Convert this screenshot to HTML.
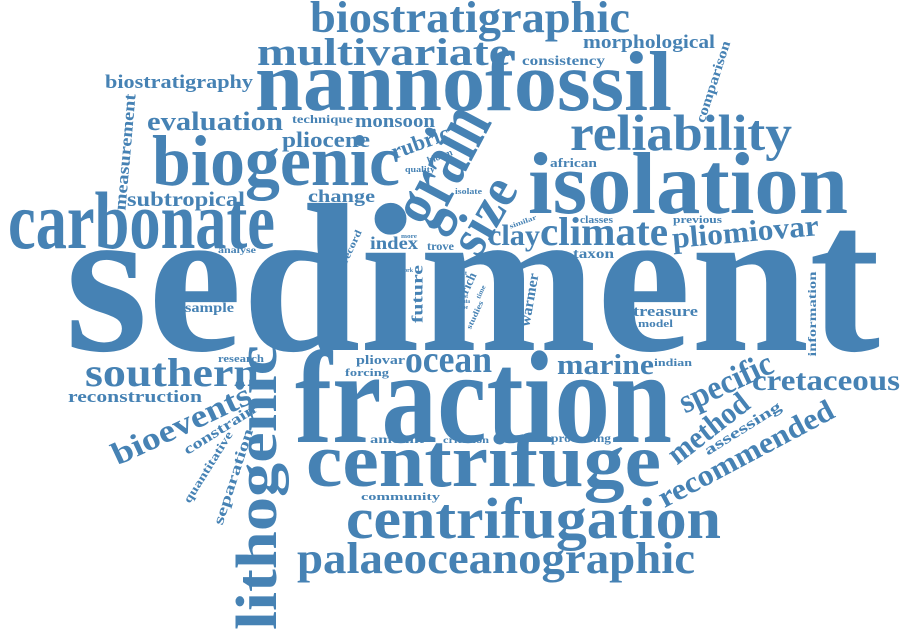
<!DOCTYPE html>
<html><head><meta charset="utf-8">
<style>
html,body{margin:0;padding:0;background:#fff;}
svg{display:block;}
text{font-family:"Liberation Serif",serif;font-weight:bold;fill:#4682b4;}
</style></head>
<body>
<svg width="900" height="633" viewBox="0 0 900 633">
<text x="65" y="350" font-size="212" textLength="815" lengthAdjust="spacingAndGlyphs">sediment</text>
<text x="295" y="442" font-size="132" textLength="377" lengthAdjust="spacingAndGlyphs">fraction</text>
<text x="255" y="110" font-size="85" textLength="417" lengthAdjust="spacingAndGlyphs">nannofossil</text>
<text x="528" y="213" font-size="88" textLength="320" lengthAdjust="spacingAndGlyphs">isolation</text>
<text x="8" y="248" font-size="82" textLength="267" lengthAdjust="spacingAndGlyphs">carbonate</text>
<text x="152" y="185" font-size="72" textLength="248" lengthAdjust="spacingAndGlyphs">biogenic</text>
<text x="306" y="486" font-size="76" textLength="355" lengthAdjust="spacingAndGlyphs">centrifuge</text>
<text x="346" y="538" font-size="58" textLength="375" lengthAdjust="spacingAndGlyphs">centrifugation</text>
<text x="297" y="573" font-size="44" textLength="398" lengthAdjust="spacingAndGlyphs">palaeoceanographic</text>
<text x="570" y="150" font-size="51" textLength="222" lengthAdjust="spacingAndGlyphs">reliability</text>
<text x="310" y="32" font-size="44" textLength="320" lengthAdjust="spacingAndGlyphs">biostratigraphic</text>
<text x="257" y="65" font-size="39" textLength="253" lengthAdjust="spacingAndGlyphs">multivariate</text>
<text x="540" y="245" font-size="40" textLength="128" lengthAdjust="spacingAndGlyphs">climate</text>
<text x="488" y="245" font-size="30" textLength="52" lengthAdjust="spacingAndGlyphs">clay</text>
<text x="673" y="248" font-size="30" textLength="147" lengthAdjust="spacingAndGlyphs" transform="rotate(-5 673 248)">pliomiovar</text>
<text x="85" y="386" font-size="40" textLength="174" lengthAdjust="spacingAndGlyphs">southern</text>
<text x="752" y="390" font-size="30" textLength="148" lengthAdjust="spacingAndGlyphs">cretaceous</text>
<text x="405" y="372" font-size="38" textLength="87" lengthAdjust="spacingAndGlyphs">ocean</text>
<text x="557" y="374" font-size="28" textLength="97" lengthAdjust="spacingAndGlyphs">marine</text>
<text x="147" y="130" font-size="26" textLength="136" lengthAdjust="spacingAndGlyphs">evaluation</text>
<text x="282" y="147" font-size="22" textLength="88" lengthAdjust="spacingAndGlyphs">pliocene</text>
<text x="355" y="127" font-size="19" textLength="80" lengthAdjust="spacingAndGlyphs">monsoon</text>
<text x="292" y="123" font-size="12" textLength="61" lengthAdjust="spacingAndGlyphs">technique</text>
<text x="127" y="206" font-size="21" textLength="118" lengthAdjust="spacingAndGlyphs">subtropical</text>
<text x="308" y="202" font-size="18" textLength="67" lengthAdjust="spacingAndGlyphs">change</text>
<text x="583" y="48" font-size="19" textLength="132" lengthAdjust="spacingAndGlyphs">morphological</text>
<text x="522" y="65" font-size="14" textLength="83" lengthAdjust="spacingAndGlyphs">consistency</text>
<text x="105" y="88" font-size="19" textLength="148" lengthAdjust="spacingAndGlyphs">biostratigraphy</text>
<text x="550" y="167" font-size="13" textLength="47" lengthAdjust="spacingAndGlyphs">african</text>
<text x="370" y="249" font-size="18" textLength="48" lengthAdjust="spacingAndGlyphs">index</text>
<text x="427" y="250" font-size="12" textLength="27" lengthAdjust="spacingAndGlyphs">trove</text>
<text x="573" y="258" font-size="14" textLength="41" lengthAdjust="spacingAndGlyphs">taxon</text>
<text x="673" y="223" font-size="11" textLength="49" lengthAdjust="spacingAndGlyphs">previous</text>
<text x="580" y="223" font-size="10" textLength="33" lengthAdjust="spacingAndGlyphs">classes</text>
<text x="455" y="194" font-size="8" textLength="27" lengthAdjust="spacingAndGlyphs">isolate</text>
<text x="218" y="253" font-size="9" textLength="38" lengthAdjust="spacingAndGlyphs">analyse</text>
<text x="633" y="316" font-size="15" textLength="65" lengthAdjust="spacingAndGlyphs">treasure</text>
<text x="638" y="327" font-size="11" textLength="35" lengthAdjust="spacingAndGlyphs">model</text>
<text x="185" y="312" font-size="14" textLength="49" lengthAdjust="spacingAndGlyphs">sample</text>
<text x="218" y="362" font-size="10" textLength="46" lengthAdjust="spacingAndGlyphs">research</text>
<text x="356" y="364" font-size="13" textLength="49" lengthAdjust="spacingAndGlyphs">pliovar</text>
<text x="345" y="376" font-size="11" textLength="44" lengthAdjust="spacingAndGlyphs">forcing</text>
<text x="654" y="366" font-size="10" textLength="38" lengthAdjust="spacingAndGlyphs">indian</text>
<text x="68" y="402" font-size="17" textLength="134" lengthAdjust="spacingAndGlyphs">reconstruction</text>
<text x="370" y="443" font-size="12" textLength="54" lengthAdjust="spacingAndGlyphs">amount</text>
<text x="443" y="443" font-size="9" textLength="46" lengthAdjust="spacingAndGlyphs">criterion</text>
<text x="551" y="442" font-size="12" textLength="60" lengthAdjust="spacingAndGlyphs">processing</text>
<text x="361" y="500" font-size="11" textLength="79" lengthAdjust="spacingAndGlyphs">community</text>
<text x="405" y="172" font-size="8" textLength="30" lengthAdjust="spacingAndGlyphs">quality</text>
<text x="276" y="630" font-size="58" textLength="285" lengthAdjust="spacingAndGlyphs" transform="rotate(-90 276 630)">lithogenic</text>
<text x="440" y="165" font-size="80" text-anchor="middle" dominant-baseline="central" textLength="125" lengthAdjust="spacingAndGlyphs" transform="rotate(-62 440 165)">grain</text>
<text x="483" y="215" font-size="55" text-anchor="middle" dominant-baseline="central" textLength="80" lengthAdjust="spacingAndGlyphs" transform="rotate(-60 483 215)">size</text>
<text x="726" y="383" font-size="34" text-anchor="middle" dominant-baseline="central" textLength="100" lengthAdjust="spacingAndGlyphs" transform="rotate(-25 726 383)">specific</text>
<text x="708" y="428" font-size="31" text-anchor="middle" dominant-baseline="central" textLength="95" lengthAdjust="spacingAndGlyphs" transform="rotate(-38 708 428)">method</text>
<text x="746" y="454" font-size="30" text-anchor="middle" dominant-baseline="central" textLength="195" lengthAdjust="spacingAndGlyphs" transform="rotate(-28 746 454)">recommended</text>
<text x="743" y="429" font-size="15" text-anchor="middle" dominant-baseline="central" textLength="88" lengthAdjust="spacingAndGlyphs" transform="rotate(-32 743 429)">assessing</text>
<text x="181" y="424" font-size="32" text-anchor="middle" dominant-baseline="central" textLength="150" lengthAdjust="spacingAndGlyphs" transform="rotate(-25 181 424)">bioevents</text>
<text x="220" y="430" font-size="15" text-anchor="middle" dominant-baseline="central" textLength="82" lengthAdjust="spacingAndGlyphs" transform="rotate(-32 220 430)">constrain</text>
<text x="208" y="467" font-size="12" text-anchor="middle" dominant-baseline="central" textLength="82" lengthAdjust="spacingAndGlyphs" transform="rotate(-58 208 467)">quantitative</text>
<text x="234" y="477" font-size="15" text-anchor="middle" dominant-baseline="central" textLength="100" lengthAdjust="spacingAndGlyphs" transform="rotate(-72 234 477)">separation</text>
<text x="714" y="82" font-size="14" text-anchor="middle" dominant-baseline="central" textLength="85" lengthAdjust="spacingAndGlyphs" transform="rotate(-72 714 82)">comparison</text>
<text x="420" y="142" font-size="22" text-anchor="middle" dominant-baseline="central" textLength="60" lengthAdjust="spacingAndGlyphs" transform="rotate(-20 420 142)">rubric</text>
<text x="440" y="157" font-size="10" text-anchor="middle" dominant-baseline="central" textLength="26" lengthAdjust="spacingAndGlyphs" transform="rotate(-20 440 157)">bloom</text>
<text x="125" y="152" font-size="17" text-anchor="middle" dominant-baseline="central" textLength="117" lengthAdjust="spacingAndGlyphs" transform="rotate(-85 125 152)">measurement</text>
<text x="418" y="294" font-size="16" text-anchor="middle" dominant-baseline="central" textLength="58" lengthAdjust="spacingAndGlyphs" transform="rotate(-90 418 294)">future</text>
<text x="530" y="300" font-size="15" text-anchor="middle" dominant-baseline="central" textLength="54" lengthAdjust="spacingAndGlyphs" transform="rotate(-80 530 300)">warmer</text>
<text x="812" y="314" font-size="12" text-anchor="middle" dominant-baseline="central" textLength="85" lengthAdjust="spacingAndGlyphs" transform="rotate(-90 812 314)">information</text>
<text x="352" y="247" font-size="10" text-anchor="middle" dominant-baseline="central" textLength="36" lengthAdjust="spacingAndGlyphs" transform="rotate(-65 352 247)">record</text>
<text x="523" y="222" font-size="7" text-anchor="middle" dominant-baseline="central" textLength="28" lengthAdjust="spacingAndGlyphs" transform="rotate(-20 523 222)">similar</text>
<text x="468" y="283" font-size="13" text-anchor="middle" dominant-baseline="central" textLength="22" lengthAdjust="spacingAndGlyphs" transform="rotate(-65 468 283)">rich</text>
<text x="481" y="292" font-size="7" text-anchor="middle" dominant-baseline="central" textLength="14" lengthAdjust="spacingAndGlyphs" transform="rotate(-65 481 292)">time</text>
<text x="475" y="315" font-size="8" text-anchor="middle" dominant-baseline="central" textLength="30" lengthAdjust="spacingAndGlyphs" transform="rotate(-65 475 315)">studies</text>
<text x="400" y="272" font-size="6" textLength="13" lengthAdjust="spacingAndGlyphs">work</text>
<text x="401" y="238" font-size="6" textLength="16" lengthAdjust="spacingAndGlyphs">more</text>
<text x="459" y="275" font-size="6" textLength="8" lengthAdjust="spacingAndGlyphs">silt</text>
<text x="458" y="298" font-size="6" textLength="10" lengthAdjust="spacingAndGlyphs">past</text>
<text x="460" y="303" font-size="6" textLength="10" lengthAdjust="spacingAndGlyphs">data</text>
<text x="458" y="309" font-size="6" textLength="10" lengthAdjust="spacingAndGlyphs">type</text>
</svg>
</body></html>
